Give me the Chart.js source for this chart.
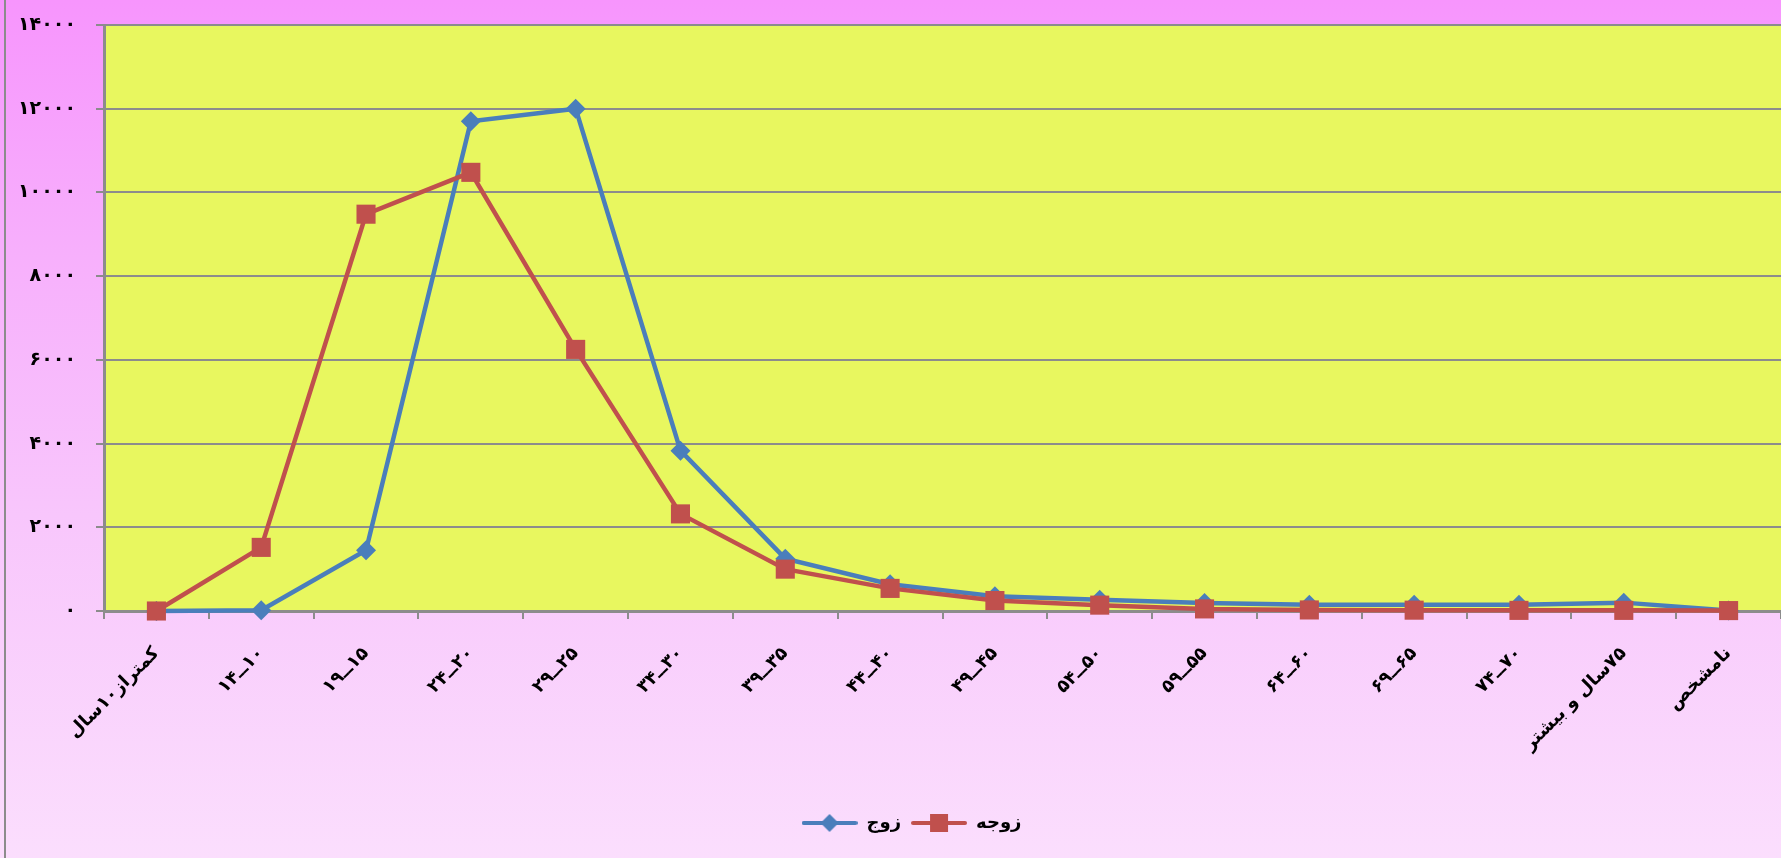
<!DOCTYPE html>
<html>
<head>
<meta charset="utf-8">
<title>زوج و زوجه</title>
<script src="https://cdn.jsdelivr.net/npm/chart.js@4.4.1/dist/chart.umd.min.js"></script>
<style>
  html, body { margin: 0; padding: 0; background: #fadcfd; }
  #chart { display: block; direction: rtl; }
</style>
</head>
<body>
<canvas id="chart" width="1781" height="858"></canvas>
<script>
// age groups (logical order, rendered right-to-left)
var categories = ['کمتراز۱۰سال', '۱۰ــ۱۴', '۱۵ــ۱۹', '۲۰ــ۲۴', '۲۵ــ۲۹', '۳۰ــ۳۴', '۳۵ــ۳۹', '۴۰ــ۴۴',
  '۴۵ــ۴۹', '۵۰ــ۵۴', '۵۵ــ۵۹', '۶۰ــ۶۴', '۶۵ــ۶۹', '۷۰ــ۷۴', '۷۵سال و بیشتر', 'نامشخص'];
var seriesNames = ['زوج', 'زوجه'];
var husband = [0, 20, 1450, 11700, 12000, 3830, 1250, 640, 350, 270, 190, 150, 150, 150, 200, 10];
var wife = [0, 1520, 9480, 10480, 6250, 2320, 1000, 540, 250, 140, 50, 25, 20, 15, 15, 10];
var yMin = 0;
var yMax = 14000;
var yStep = 2000;

var BLUE = '#4a7ebb';
var RED = '#c0504d';
var GRID = '#8c8c8c';

function toFa(n) {
  return String(n).replace(/\d/g, function (d) { return '۰۱۲۳۴۵۶۷۸۹'[d]; });
}

// legend marker: short line with the point symbol on it
function legendMarker(color, shape) {
  var c = document.createElement('canvas');
  c.width = 56;
  c.height = 22;
  var g = c.getContext('2d');
  g.strokeStyle = color;
  g.fillStyle = color;
  g.lineWidth = 4;
  g.lineCap = 'round';
  g.beginPath();
  g.moveTo(2, 11);
  g.lineTo(54, 11);
  g.stroke();
  g.beginPath();
  if (shape === 'diamond') {
    g.moveTo(28, 2); g.lineTo(37, 11); g.lineTo(28, 20); g.lineTo(19, 11);
  } else {
    g.rect(19, 2, 18, 18);
  }
  g.closePath();
  g.fill();
  return c;
}
var markers = [legendMarker(BLUE, 'diamond'), legendMarker(RED, 'square')];

var backdrop = {
  id: 'backdrop',
  beforeDraw: function (chart) {
    var ctx = chart.ctx;
    var a = chart.chartArea;
    var grad = ctx.createLinearGradient(0, 0, 0, chart.height);
    grad.addColorStop(0, '#f795fd');
    grad.addColorStop(0.3, '#f7b0fc');
    grad.addColorStop(0.6, '#f8c6fc');
    grad.addColorStop(1, '#fbdefd');
    ctx.save();
    ctx.fillStyle = grad;
    ctx.fillRect(0, 0, chart.width, chart.height);
    ctx.fillStyle = '#e8f75f';
    ctx.fillRect(a.left, a.top, a.right - a.left, a.bottom - a.top);
    ctx.fillStyle = GRID;
    ctx.fillRect(4, 0, 2, chart.height);
    ctx.restore();
  }
};

var ctx = document.getElementById('chart').getContext('2d');
var chart = new Chart(ctx, {
  type: 'line',
  data: {
    labels: categories,
    datasets: [{
      label: seriesNames[0],
      data: husband,
      borderColor: BLUE,
      backgroundColor: BLUE,
      borderWidth: 4.5,
      pointStyle: 'rectRot',
      pointRadius: 10,
      pointBorderWidth: 0,
      clip: false,
      order: 1
    }, {
      label: seriesNames[1],
      data: wife,
      borderColor: RED,
      backgroundColor: RED,
      borderWidth: 4.5,
      pointStyle: 'rect',
      pointRadius: 13.5,
      pointBorderWidth: 0,
      clip: false,
      order: 0
    }]
  },
  options: {
    responsive: false,
    animation: false,
    events: [],
    // plot area runs a bit past the right edge, like the original
    layout: { autoPadding: false, padding: { top: 25, right: -22, bottom: 16, left: 20 } },
    elements: { line: { tension: 0 } },
    scales: {
      x: {
        offset: true,
        grid: { drawOnChartArea: false, drawTicks: true, tickLength: 8, color: GRID, lineWidth: 2, offset: true },
        border: { color: GRID, width: 3 },
        ticks: {
          minRotation: 45,
          maxRotation: 45,
          autoSkip: false,
          padding: 24,
          color: '#000',
          font: { family: 'DejaVu Sans', weight: 'bold', size: 18 }
        },
        afterFit: function (scale) {
          scale.height = 193;
          scale.paddingLeft = 0;
          scale.paddingRight = -22;
        }
      },
      y: {
        min: yMin,
        max: yMax,
        grid: { color: GRID, lineWidth: 2, tickLength: 8 },
        border: { color: GRID, width: 3 },
        ticks: {
          stepSize: yStep,
          padding: 20,
          color: '#000',
          font: { family: 'DejaVu Sans', weight: 'bold', size: 19 },
          callback: function (v) { return toFa(v); }
        },
        afterFit: function (scale) {
          scale.width = 84;
          scale.paddingTop = 0;
          scale.paddingRight = -22;
        }
      }
    },
    plugins: {
      tooltip: { enabled: false },
      legend: {
        position: 'bottom',
        labels: {
          usePointStyle: true,
          pointStyleWidth: 56,
          boxHeight: 18,
          padding: 10,
          color: '#000',
          font: { family: 'DejaVu Sans', weight: 'bold', size: 18 },
          generateLabels: function (chart) {
            return chart.data.datasets.map(function (ds, i) {
              return {
                text: ds.label,
                pointStyle: markers[i],
                fillStyle: ds.backgroundColor,
                strokeStyle: ds.borderColor,
                lineWidth: 0,
                hidden: false,
                datasetIndex: i,
                fontColor: '#000'
              };
            });
          }
        }
      }
    }
  },
  plugins: [backdrop]
});
</script>
</body>
</html>
